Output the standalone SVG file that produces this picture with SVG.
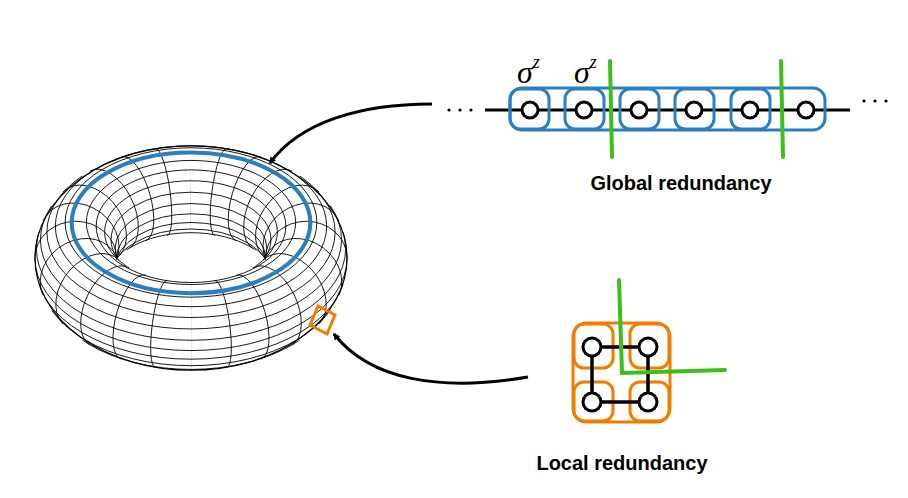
<svg xmlns="http://www.w3.org/2000/svg" width="908" height="498" viewBox="0 0 908 498">
<defs>
<style>
.m{fill:none;stroke:#000;stroke-width:0.9;vector-effect:non-scaling-stroke}
.node{fill:#fff;stroke:#000;stroke-width:3}
.blue{fill:none;stroke:#2a7fc0;stroke-width:3}
.orange{fill:none;stroke:#f07d00;stroke-width:3}
.green{fill:none;stroke:#3cbf1a;stroke-width:4;stroke-linecap:round}
.lbl{font-family:"Liberation Sans",Arial,sans-serif;font-weight:bold;font-size:20px;text-anchor:middle}
.sig{font-family:"Liberation Serif","Times New Roman",serif;font-style:italic;font-size:32px}
.sup{font-family:"Liberation Serif","Times New Roman",serif;font-style:italic;font-size:18px}
</style>
<clipPath id="hx"><rect x="0" y="-2" width="2" height="4"/></clipPath>
<clipPath id="yp"><rect x="-2" y="0" width="4" height="2"/></clipPath>
<clipPath id="yn"><rect x="-2" y="-2" width="4" height="2"/></clipPath>
<marker id="ah" viewBox="0 0 10 10" refX="8" refY="5" markerWidth="7" markerHeight="7" orient="auto" markerUnits="userSpaceOnUse">
<path d="M0,0 L10,5 L0,10 Z" fill="#000"/>
</marker>
</defs>
<rect width="908" height="498" fill="#fff"/>
<g id="torus">
<g transform="translate(0,6) translate(191,252) scale(1.02,1.1) translate(-191,-252)">
<ellipse class="m" cx="191" cy="252" rx="153" ry="102" style="stroke-width:1.2"/>
<g id="meridians">
<circle class="m" r="1" clip-path="url(#hx)" transform="matrix(40,0,0,-33.4,304,252) rotate(90)"/>
<circle class="m" r="1" clip-path="url(#hx)" transform="matrix(38.64,5.69,0,-33.4,300.2,268.1) rotate(68.6)"/>
<circle class="m" r="1" clip-path="url(#hx)" transform="matrix(34.64,11,0,-33.4,288.9,283.1) rotate(52.8)"/>
<circle class="m" r="1" clip-path="url(#hx)" transform="matrix(28.28,15.56,0,-33.4,270.9,295.9) rotate(43)"/>
<circle class="m" r="1" clip-path="url(#hx)" transform="matrix(20,19.05,0,-33.4,247.5,305.8) rotate(37.3)"/>
<circle class="m" r="1" clip-path="url(#hx)" transform="matrix(10.35,21.25,0,-33.4,220.2,312) rotate(34.3)"/>
<circle class="m" r="1" clip-path="url(#hx)" transform="matrix(0.05,22,0,-33.4,191,314.15) rotate(33.4)"/>
<circle class="m" r="1" clip-path="url(#hx)" transform="matrix(-10.35,21.25,0,-33.4,161.8,312) rotate(34.3)"/>
<circle class="m" r="1" clip-path="url(#hx)" transform="matrix(-20,19.05,0,-33.4,134.5,305.8) rotate(37.3)"/>
<circle class="m" r="1" clip-path="url(#hx)" transform="matrix(-28.28,15.56,0,-33.4,111.1,295.9) rotate(43)"/>
<circle class="m" r="1" clip-path="url(#hx)" transform="matrix(-34.64,11,0,-33.4,93.1,283.1) rotate(52.8)"/>
<circle class="m" r="1" clip-path="url(#hx)" transform="matrix(-38.64,5.69,0,-33.4,81.8,268.1) rotate(68.6)"/>
<circle class="m" r="1" clip-path="url(#hx)" transform="matrix(-40,0,0,-33.4,78,252) rotate(90)"/>
<circle class="m" r="1" clip-path="url(#hx)" transform="matrix(-38.64,-5.69,0,-33.4,81.8,235.9) rotate(111.4)"/>
<circle class="m" r="1" clip-path="url(#hx)" transform="matrix(-34.64,-11,0,-33.4,93.1,220.9) rotate(127.2)"/>
<circle class="m" r="1" clip-path="url(#hx)" transform="matrix(-28.28,-15.56,0,-33.4,111.1,208.1) rotate(137)"/>
<circle class="m" r="1" clip-path="url(#hx)" transform="matrix(-20,-19.05,0,-33.4,134.5,198.2) rotate(142.7)"/>
<circle class="m" r="1" clip-path="url(#hx)" transform="matrix(-10.35,-21.25,0,-33.4,161.8,192) rotate(145.7)"/>
<circle class="m" r="1" clip-path="url(#hx)" transform="matrix(0.05,-22,0,-33.4,191,189.85) rotate(146.6)"/>
<circle class="m" r="1" clip-path="url(#hx)" transform="matrix(10.35,-21.25,0,-33.4,220.2,192) rotate(145.7)"/>
<circle class="m" r="1" clip-path="url(#hx)" transform="matrix(20,-19.05,0,-33.4,247.5,198.2) rotate(142.7)"/>
<circle class="m" r="1" clip-path="url(#hx)" transform="matrix(28.28,-15.56,0,-33.4,270.9,208.1) rotate(137)"/>
<circle class="m" r="1" clip-path="url(#hx)" transform="matrix(34.64,-11,0,-33.4,288.9,220.9) rotate(127.2)"/>
<circle class="m" r="1" clip-path="url(#hx)" transform="matrix(38.64,-5.69,0,-33.4,300.2,235.9) rotate(111.4)"/>
</g>
<g id="latitudes">
<circle class="m" r="1" clip-path="url(#yp)" transform="matrix(153,0,0,84.15,191,252)"/>
<circle class="m" r="1" cy="0.177" clip-path="url(#yp)" transform="matrix(151.6,0,0,83.4,191,243.4) translate(0,-0.177)"/>
<circle class="m" r="1" cy="0.38" clip-path="url(#yp)" transform="matrix(147.6,0,0,81.2,191,235.3) translate(0,-0.38)"/>
<circle class="m" r="1" cy="0.659" clip-path="url(#yp)" transform="matrix(141.3,0,0,77.7,191,228.4) translate(0,-0.659)"/>
<ellipse class="m" cx="191" cy="223.1" rx="133" ry="73.2"/>
<ellipse class="m" cx="191" cy="219.7" rx="123.4" ry="67.9"/>
<ellipse class="m" cx="191" cy="219.7" rx="102.6" ry="56.4"/>
<ellipse class="m" cx="191" cy="223.1" rx="93" ry="51.2"/>
<circle class="m" r="1" cy="-0.659" clip-path="url(#yn)" transform="matrix(84.7,0,0,46.6,191,228.4) translate(0,0.659)"/>
<circle class="m" r="1" cy="-0.38" clip-path="url(#yn)" transform="matrix(78.4,0,0,43.1,191,235.3) translate(0,0.38)"/>
<circle class="m" r="1" cy="-0.177" clip-path="url(#yn)" transform="matrix(74.4,0,0,40.9,191,243.4) translate(0,0.177)"/>
<circle class="m" r="1" clip-path="url(#yn)" transform="matrix(73,0,0,40.15,191,252)"/>
<circle class="m" r="1" cy="0.177" clip-path="url(#yn)" transform="matrix(74.4,0,0,40.9,191,260.6) translate(0,-0.177)"/>
<circle class="m" r="1" cy="0.38" clip-path="url(#yn)" transform="matrix(78.4,0,0,43.1,191,268.7) translate(0,-0.38)"/>
<circle class="m" r="1" cy="0.659" clip-path="url(#yn)" transform="matrix(84.7,0,0,46.6,191,275.6) translate(0,-0.659)"/>
<circle class="m" r="1" cy="-0.659" clip-path="url(#yp)" transform="matrix(141.3,0,0,77.7,191,275.6) translate(0,0.659)"/>
<circle class="m" r="1" cy="-0.38" clip-path="url(#yp)" transform="matrix(147.6,0,0,81.2,191,268.7) translate(0,0.38)"/>
<circle class="m" r="1" cy="-0.177" clip-path="url(#yp)" transform="matrix(151.6,0,0,83.4,191,260.6) translate(0,0.177)"/>
</g>
<ellipse cx="191" cy="220" rx="117" ry="64" fill="none" stroke="#2a7fc0" stroke-width="4" vector-effect="non-scaling-stroke"/>
</g>
<path class="orange" d="M318,306 L335,315 L327,334 L310,325 Z"/>
</g>
<g id="connectors">
<path d="M432,104 C360,104 300,122 270,163" fill="none" stroke="#000" stroke-width="3" marker-end="url(#ah)"/>
<path d="M528,377 C440,392 370,380 334,334" fill="none" stroke="#000" stroke-width="3" marker-end="url(#ah)"/>
</g>
<g id="chain">
<g fill="#000">
<circle cx="449" cy="110" r="1.6"/><circle cx="460" cy="110" r="1.6"/><circle cx="471" cy="110" r="1.6"/>
<circle cx="864" cy="101" r="1.6"/><circle cx="875" cy="101" r="1.6"/><circle cx="886" cy="101" r="1.6"/>
</g>
<line x1="485" y1="110" x2="850" y2="110" stroke="#000" stroke-width="3"/>
<rect class="blue" x="510" y="88" width="315" height="42" rx="12"/>
<rect class="blue" x="510" y="89" width="39" height="40" rx="10"/>
<rect class="blue" x="565" y="89" width="39" height="40" rx="10"/>
<rect class="blue" x="620" y="89" width="39" height="40" rx="10"/>
<rect class="blue" x="675" y="89" width="39" height="40" rx="10"/>
<rect class="blue" x="731" y="89" width="39" height="40" rx="10"/>
<circle class="node" cx="530" cy="110" r="8"/>
<circle class="node" cx="584" cy="110" r="8"/>
<circle class="node" cx="639" cy="110" r="8"/>
<circle class="node" cx="694" cy="110" r="8"/>
<circle class="node" cx="750" cy="110" r="8"/>
<circle class="node" cx="806" cy="110" r="8"/>
<path class="green" d="M610,61 L612,157"/>
<path class="green" d="M781,61 L783,157"/>
<text class="sig" x="517" y="83">σ<tspan class="sup" dy="-15">z</tspan></text>
<text class="sig" x="574" y="83">σ<tspan class="sup" dy="-15">z</tspan></text>
<text class="lbl" x="681" y="190">Global redundancy</text>
</g>
<g id="plaquette">
<rect class="orange" x="573" y="323" width="97" height="99" rx="14"/>
<rect class="orange" x="574" y="324" width="39" height="44" rx="10"/>
<rect class="orange" x="630" y="324" width="39" height="44" rx="10"/>
<rect class="orange" x="574" y="382" width="39" height="39" rx="10"/>
<rect class="orange" x="630" y="382" width="39" height="39" rx="10"/>
<path d="M592,347 H648 V402 H592 Z" fill="none" stroke="#000" stroke-width="3.5"/>
<circle class="node" cx="592" cy="347" r="9"/>
<circle class="node" cx="648" cy="347" r="9"/>
<circle class="node" cx="592" cy="402" r="9"/>
<circle class="node" cx="648" cy="402" r="9"/>
<path class="green" d="M619,280 L622,373 L725,370"/>
<text class="lbl" x="622" y="470">Local redundancy</text>
</g>
</svg>
